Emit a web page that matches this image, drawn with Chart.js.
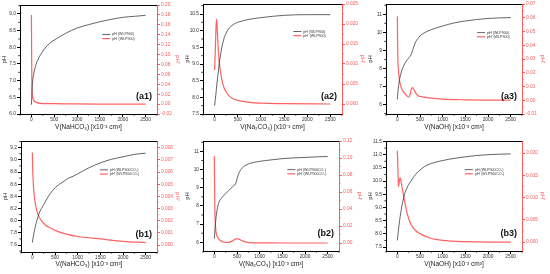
<!DOCTYPE html>
<html><head><meta charset="utf-8">
<script src="https://cdn.jsdelivr.net/npm/chart.js@4.4.1/dist/chart.umd.min.js"></script>
<style>
html,body{margin:0;padding:0;background:#fff;width:550px;height:274px;overflow:hidden;position:relative}
canvas{position:absolute}
</style></head><body>
<script>
// ---------- shared x axis ----------
const xTicks = [0, 500, 1000, 1500, 2000, 2500];
const xMin = -250, xMax = 2750;

// ---------- (a1) NaHCO3, WLP900 ----------
const a1PhX  = [0, 10, 25, 50, 100, 150, 200, 300, 400, 500, 750, 1000, 1250, 1500, 1750, 2000, 2250, 2500];
const a1PhY  = [6.28, 6.6, 6.95, 7.2, 7.48, 7.65, 7.78, 7.98, 8.12, 8.22, 8.42, 8.58, 8.68, 8.77, 8.84, 8.9, 8.93, 8.96];
const a1DerX = [0, 5, 10, 25, 50, 100, 200, 500, 1000, 1500, 2000, 2500];
const a1DerY = [0.18, 0.1, 0.04, 0.015, 0.008, 0.004, 0.0015, 0.0008, 0.0003, 0.0001, 0.0, 0.0];
const a1LeftTicks  = [6.0, 6.5, 7.0, 7.5, 8.0, 8.5, 9.0];
const a1RightTicks = [-0.02, 0.0, 0.02, 0.04, 0.06, 0.08, 0.10, 0.12, 0.14, 0.16, 0.18, 0.20];

// ---------- (a2) Na2CO3, WLP900 ----------
const a2PhX  = [0, 25, 50, 75, 100, 150, 200, 250, 300, 400, 500, 750, 1000, 1500, 2000, 2500];
const a2PhY  = [7.75, 8.05, 8.4, 8.7, 9.0, 9.45, 9.75, 9.93, 10.05, 10.18, 10.25, 10.34, 10.39, 10.46, 10.48, 10.48];
const a2DerX = [0, 15, 30, 45, 60, 80, 100, 150, 200, 300, 400, 500, 750, 1000, 1500, 2500];
const a2DerY = [0.0085, 0.013, 0.019, 0.0212, 0.018, 0.0135, 0.0105, 0.0065, 0.0042, 0.0022, 0.0013, 0.0009, 0.0004, 0.0002, 0.0001, 0.0];
const a2LeftTicks  = [7.5, 8.0, 8.5, 9.0, 9.5, 10.0, 10.5];
const a2RightTicks = [0.0, 0.005, 0.010, 0.015, 0.020, 0.025];

// ---------- (a3) NaOH, WLP900 ----------
const a3PhX  = [0, 20, 50, 100, 150, 200, 250, 300, 350, 400, 450, 500, 600, 750, 1000, 1250, 1500, 1750, 2000, 2250, 2500];
const a3PhY  = [6.28, 6.9, 7.4, 7.9, 8.2, 8.42, 8.58, 8.75, 9.1, 9.45, 9.65, 9.8, 9.98, 10.15, 10.35, 10.52, 10.63, 10.71, 10.77, 10.8, 10.82];
const a3DerX = [0, 5, 10, 20, 40, 70, 100, 150, 200, 250, 280, 310, 335, 360, 400, 450, 500, 750, 1000, 1500, 2000, 2500];
const a3DerY = [0.061, 0.045, 0.033, 0.024, 0.016, 0.011, 0.008, 0.0055, 0.0035, 0.0022, 0.004, 0.008, 0.0092, 0.008, 0.0055, 0.0035, 0.0028, 0.0015, 0.0008, 0.0003, 0.0001, 0.0];
const a3LeftTicks  = [6, 7, 8, 9, 10, 11];
const a3RightTicks = [-0.01, 0.0, 0.01, 0.02, 0.03, 0.04, 0.05, 0.06, 0.07];

// ---------- (b1) NaHCO3, WLP900CO2 ----------
const b1PhX  = [0, 25, 50, 100, 150, 200, 250, 300, 400, 500, 600, 700, 800, 900, 1000, 1250, 1500, 1750, 2000, 2250, 2500];
const b1PhY  = [7.64, 7.75, 7.85, 8.0, 8.12, 8.2, 8.26, 8.33, 8.45, 8.54, 8.6, 8.65, 8.7, 8.73, 8.77, 8.87, 8.95, 9.01, 9.05, 9.09, 9.11];
const b1DerX = [0, 10, 25, 50, 100, 150, 200, 300, 400, 500, 750, 1000, 1500, 2000, 2500];
const b1DerY = [0.0076, 0.006, 0.0048, 0.0038, 0.0028, 0.0023, 0.002, 0.0016, 0.0014, 0.0012, 0.0009, 0.0007, 0.0005, 0.0003, 0.0002];
const b1LeftTicks  = [7.6, 7.8, 8.0, 8.2, 8.4, 8.6, 8.8, 9.0, 9.2];
const b1RightTicks = [0.0, 0.001, 0.002, 0.003, 0.004, 0.005, 0.006, 0.007, 0.008];

// ---------- (b2) Na2CO3, WLP900CO2 ----------
const b2PhX  = [0, 20, 40, 70, 100, 150, 200, 300, 400, 450, 480, 520, 560, 620, 700, 800, 1000, 1250, 1500, 2000, 2500];
const b2PhY  = [6.2, 6.9, 7.4, 7.9, 8.2, 8.4, 8.55, 8.8, 9.05, 9.15, 9.3, 9.65, 9.9, 10.1, 10.25, 10.35, 10.45, 10.53, 10.6, 10.67, 10.72];
const b2DerX = [0, 5, 10, 20, 40, 70, 100, 150, 200, 300, 400, 480, 520, 600, 700, 800, 1000, 1500, 2500];
const b2DerY = [0.102, 0.07, 0.045, 0.025, 0.012, 0.007, 0.0045, 0.0025, 0.0012, 0.0006, 0.0025, 0.0048, 0.0048, 0.003, 0.001, 0.0002, 0.0001, 0.0, 0.0];
const b2LeftTicks  = [6, 7, 8, 9, 10, 11];
const b2RightTicks = [0.0, 0.02, 0.04, 0.06, 0.08, 0.10, 0.12];

// ---------- (b3) NaOH, WLP900CO2 ----------
const b3PhX  = [0, 25, 50, 75, 100, 150, 200, 250, 300, 400, 500, 600, 750, 1000, 1250, 1500, 1750, 2000, 2250, 2500];
const b3PhY  = [7.75, 8.15, 8.5, 8.8, 9.05, 9.45, 9.7, 9.87, 10.0, 10.25, 10.42, 10.55, 10.67, 10.78, 10.86, 10.92, 10.97, 11.0, 11.02, 11.03];
const b3DerX = [0, 10, 20, 30, 45, 60, 75, 100, 150, 200, 250, 300, 400, 500, 750, 1000, 1500, 2000, 2500];
const b3DerY = [0.0205, 0.0175, 0.0135, 0.0125, 0.0138, 0.0145, 0.014, 0.0125, 0.0098, 0.0072, 0.0053, 0.004, 0.0026, 0.0019, 0.0008, 0.0004, 0.0001, 0.0, 0.0];
const b3LeftTicks  = [7.5, 8.0, 8.5, 9.0, 9.5, 10.0, 10.5, 11.0, 11.5];
const b3RightTicks = [0.0, 0.005, 0.010, 0.015, 0.020];

// ---------- text ----------
const titleNaHCO3 = 'V(NaHCO\u2083) [x10\u207B\u00B3 cm\u00B3]';
const titleNa2CO3 = 'V(Na\u2082CO\u2083) [x10\u207B\u00B3 cm\u00B3]';
const titleNaOH   = 'V(NaOH) [x10\u207B\u00B3 cm\u00B3]';
const legA = ['pH (WLP900)', "pH' (WLP900)"];
const legB = ['pH (WLP900CO\u2082)', "pH' (WLP900CO\u2082)"];

// ---------- styles ----------
const FONT = "'Liberation Sans', Arial, sans-serif";
const BLACK = '#3c3c3c';
const RED = 'rgba(255,70,70,0.85)';
const RED_AXIS = '#ff5a5a';
const LEFT_W = 20, RIGHT_W = 24;

const panels = [
  {tag:'(a1)', top:0, plotL:20, plotR:157, plotTop:5, plotBottom:114, title:titleNaHCO3, leg:legA, legF:[0.6,0.27],
   phX:a1PhX, phY:a1PhY, dX:a1DerX, dY:a1DerY, lt:a1LeftTicks, rt:a1RightTicks, lmin:6.0, lmax:9.27, rmin:-0.02, rmax:0.20, ld:1, rd:2},
  {tag:'(a2)', top:0, plotL:203, plotR:342, plotTop:4, plotBottom:114, title:titleNa2CO3, leg:legA, legF:[0.65,0.25],
   phX:a2PhX, phY:a2PhY, dX:a2DerX, dY:a2DerY, lt:a2LeftTicks, rt:a2RightTicks, lmin:7.5, lmax:10.8, rmin:-0.0025, rmax:0.025, ld:1, rd:3},
  {tag:'(a3)', top:0, plotL:386, plotR:522, plotTop:4, plotBottom:114, title:titleNaOH, leg:legA, legF:[0.67,0.26],
   phX:a3PhX, phY:a3PhY, dX:a3DerX, dY:a3DerY, lt:a3LeftTicks, rt:a3RightTicks, lmin:5.48, lmax:11.57, rmin:-0.01, rmax:0.07, ld:0, rd:2},
  {tag:'(b1)', top:137, plotL:21, plotR:157, plotTop:4, plotBottom:115, title:titleNaHCO3, leg:legB, legF:[0.58,0.26],
   phX:b1PhX, phY:b1PhY, dX:b1DerX, dY:b1DerY, lt:b1LeftTicks, rt:b1RightTicks, lmin:7.485, lmax:9.31, rmin:-0.000575, rmax:0.00855, ld:1, rd:3},
  {tag:'(b2)', top:137, plotL:203, plotR:339, plotTop:4, plotBottom:114, title:titleNa2CO3, leg:legB, legF:[0.62,0.26],
   phX:b2PhX, phY:b2PhY, dX:b2DerX, dY:b2DerY, lt:b2LeftTicks, rt:b2RightTicks, lmin:5.52, lmax:11.57, rmin:-0.0094, rmax:0.12, ld:0, rd:2},
  {tag:'(b3)', top:137, plotL:386, plotR:522, plotTop:4, plotBottom:114, title:titleNaOH, leg:legB, legF:[0.58,0.26],
   phX:b3PhX, phY:b3PhY, dX:b3DerX, dY:b3DerY, lt:b3LeftTicks, rt:b3RightTicks, lmin:7.35, lmax:11.52, rmin:-0.002, rmax:0.0227, ld:1, rd:3}
];

function drawMinor(ctx, scale, color, side) {
  const t = scale.ticks.map(k => k.value);
  if (t.length < 2) return;
  const step = t[1] - t[0];
  ctx.strokeStyle = color; ctx.lineWidth = 0.8;
  ctx.beginPath();
  for (let v = t[0] - step / 2; v <= t[t.length - 1] + step / 2 + 1e-9; v += step) {
    if (v < scale.min || v > scale.max) continue;
    const pix = scale.getPixelForValue(v);
    if (side === 'bottom') { ctx.moveTo(pix, scale.top); ctx.lineTo(pix, scale.top + 1.7); }
    else if (side === 'left') { ctx.moveTo(scale.right, pix); ctx.lineTo(scale.right - 1.7, pix); }
    else { ctx.moveTo(scale.left, pix); ctx.lineTo(scale.left + 1.7, pix); }
  }
  ctx.stroke();
}

const decorPlugin = {
  id: 'decor',
  afterDraw(chart, args, opts) {
    const {ctx, chartArea: a} = chart;
    ctx.save();
    // top frame line
    ctx.strokeStyle = '#000'; ctx.lineWidth = 1;
    ctx.beginPath(); ctx.moveTo(a.left, a.top + 0.5); ctx.lineTo(a.right, a.top + 0.5); ctx.stroke();
    // minor ticks
    drawMinor(ctx, chart.scales.x, '#000', 'bottom');
    drawMinor(ctx, chart.scales.y, '#000', 'left');
    drawMinor(ctx, chart.scales.y1, RED_AXIS, 'right');
    // panel tag
    ctx.fillStyle = '#111';
    ctx.font = 'bold 9px ' + FONT;
    ctx.textAlign = 'right'; ctx.textBaseline = 'middle';
    ctx.fillText(opts.tag, a.right - 5, a.top + 0.84 * (a.bottom - a.top));
    // legend
    const lx = a.left + opts.legF[0] * (a.right - a.left);
    const ly = a.top + opts.legF[1] * (a.bottom - a.top);
    ctx.font = '3.6px ' + FONT;
    ctx.textAlign = 'left';
    chart.data.datasets.forEach((ds, i) => {
      const y = ly + i * 4.2;
      ctx.strokeStyle = ds.borderColor; ctx.lineWidth = ds.borderWidth;
      ctx.beginPath(); ctx.moveTo(lx, y); ctx.lineTo(lx + 8, y); ctx.stroke();
      ctx.fillStyle = '#333';
      ctx.fillText(ds.label, lx + 10, y);
    });
    ctx.restore();
  }
};

function fixTicks(arr) { return s => { s.ticks = arr.map(v => ({value: v})); }; }

function makePanel(p) {
  const cv = document.createElement('canvas');
  const left = p.plotL - LEFT_W;
  const width = p.plotR - p.plotL + LEFT_W + RIGHT_W;
  cv.width = width; cv.height = 137;
  cv.style.left = left + 'px'; cv.style.top = p.top + 'px';
  cv.style.width = width + 'px'; cv.style.height = '137px';
  document.body.appendChild(cv);
  const tickFont = {family: FONT, size: 4.8};
  new Chart(cv, {
    type: 'line',
    data: {datasets: [
      {label: p.leg[0], data: p.phX.map((x, i) => ({x, y: p.phY[i]})), yAxisID: 'y',
       borderColor: BLACK, borderWidth: 0.8, pointRadius: 0, cubicInterpolationMode: 'monotone'},
      {label: p.leg[1], data: p.dX.map((x, i) => ({x, y: p.dY[i]})), yAxisID: 'y1',
       borderColor: RED, borderWidth: 1.2, pointRadius: 0, cubicInterpolationMode: 'monotone'}
    ]},
    options: {
      responsive: false, animation: false, devicePixelRatio: 1,
      layout: {padding: {top: p.plotTop, left: 0, right: 0, bottom: 0}},
      plugins: {legend: {display: false}, tooltip: {enabled: false}, decor: {tag: p.tag, legF: p.legF}},
      scales: {
        x: {type: 'linear', min: xMin, max: xMax, afterBuildTicks: fixTicks(xTicks),
            afterFit: s => { s.height = 137 - p.plotBottom; },
            border: {display: true, color: '#000', width: 1},
            grid: {drawOnChartArea: false, drawTicks: true, tickLength: 3, color: '#000'},
            ticks: {font: tickFont, color: '#333', padding: 0, maxRotation: 0, autoSkip: false, callback: v => String(v)},
            title: {display: true, text: p.title, font: {family: FONT, size: 6.5}, color: '#222', padding: {top: 0, bottom: 6}}},
        y: {position: 'left', min: p.lmin, max: p.lmax, afterBuildTicks: fixTicks(p.lt),
            afterFit: s => { s.width = LEFT_W; },
            border: {display: true, color: '#000', width: 1},
            grid: {drawOnChartArea: false, drawTicks: true, tickLength: 3, color: '#000'},
            ticks: {font: tickFont, color: '#333', padding: 1, autoSkip: false, callback: v => v.toFixed(p.ld)},
            title: {display: true, text: 'pH', font: {family: FONT, size: 6}, color: '#222', padding: {top: 1, bottom: 0}}},
        y1: {position: 'right', min: p.rmin, max: p.rmax, afterBuildTicks: fixTicks(p.rt),
            afterFit: s => { s.width = RIGHT_W; },
            border: {display: true, color: RED_AXIS, width: 1},
            grid: {drawOnChartArea: false, drawTicks: true, tickLength: 3, color: RED_AXIS},
            ticks: {font: tickFont, color: RED_AXIS, padding: 1, autoSkip: false, callback: v => v.toFixed(p.rd)},
            title: {display: true, text: "pH'", font: {family: FONT, size: 6}, color: RED_AXIS, padding: {top: 0, bottom: 0}}}
      }
    },
    plugins: [decorPlugin]
  });
}

panels.forEach(makePanel);
</script>
</body></html>
